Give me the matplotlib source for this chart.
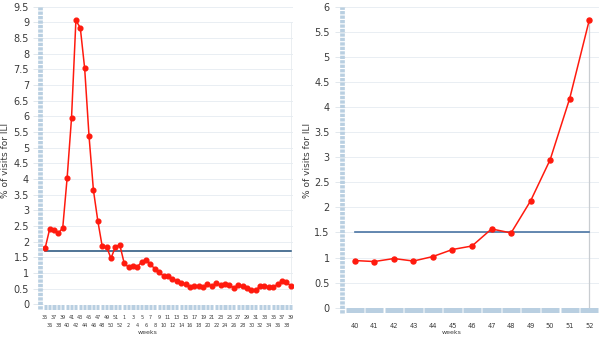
import matplotlib
matplotlib.use("Agg")
import matplotlib.pyplot as plt

# season 1: weeks 35..52 then 1..39
season_weeks = [str(w) for w in range(35, 53)] + [str(w) for w in range(1, 40)]
season_ili = [
    1.80, 2.39, 2.36, 2.27, 2.44, 4.03, 5.94, 9.06, 8.83, 7.53, 5.36, 3.64,
    2.66, 1.85, 1.83, 1.47, 1.83, 1.90,
    1.32, 1.18, 1.23, 1.20, 1.35, 1.42, 1.29, 1.12, 1.04, 0.89, 0.89, 0.82,
    0.74, 0.67, 0.64, 0.56, 0.59, 0.58, 0.56, 0.64, 0.58, 0.67, 0.61, 0.66,
    0.62, 0.52, 0.62, 0.57, 0.51, 0.46, 0.46, 0.57, 0.60, 0.54, 0.54, 0.65,
    0.73, 0.70, 0.59,
]
season_baseline = 1.70

# current season: weeks 40..52
current_weeks = [str(w) for w in range(40, 53)]
current_ili = [0.94, 0.92, 0.98, 0.93, 1.02, 1.16, 1.23, 1.57, 1.49,
               2.13, 2.95, 4.17, 5.73]
current_baseline = 1.5

RED = "#ff1a0e"
BAND = "#b9cfe1"
GRID = "#e9eef3"
TXT = "#3a3a3a"

W, H = 600, 339
fig = plt.figure(figsize=(W / 100, H / 100), dpi=100)
fig.patch.set_facecolor("white")


def px_axes(x0, x1, ytop, ybot):
    return fig.add_axes([x0 / W, 1 - ybot / H, (x1 - x0) / W, (ybot - ytop) / H])


def style(ax, ymax, n, band_w_px, tick_pad):
    ax.set_xlim(-0.5, n - 0.5)
    ax.set_ylim(0, ymax)
    yt = [i * 0.5 for i in range(int(ymax * 2) + 1)]
    ax.set_yticks(yt)
    ax.set_yticklabels([f"{v:g}" for v in yt])
    ax.grid(axis="y", color=GRID, lw=0.7)
    ax.set_axisbelow(True)
    for s in ax.spines.values():
        s.set_visible(False)
    ax.tick_params(axis="y", length=7, width=0.6, color="#dde4ea",
                   labelsize=7, labelcolor=TXT, pad=tick_pad)
    ax.tick_params(axis="x", which="both", length=0)
    # dashed band along the value axis
    bbox = ax.get_position()
    ax_w_px = bbox.width * W
    ax_h_px = bbox.height * H
    ax.plot([-2.6 / ax_w_px] * 2, [-5 / ax_h_px, 1], transform=ax.transAxes,
            color=BAND, lw=band_w_px * 0.72, dashes=(0.7, 0.25),
            clip_on=False, zorder=5, solid_capstyle="butt")
    # segmented band along the category axis
    gap = 0.6 / (ax_w_px / n)
    trans = ax.get_xaxis_transform()
    for i in range(n):
        ax.plot([i - 0.5 + gap, i + 0.5 - gap], [-2.4 / ax_h_px] * 2,
                transform=trans, color=BAND, lw=3.6, clip_on=False,
                zorder=5, solid_capstyle="butt")


# left panel
ax1 = px_axes(43, 293, 6.7, 304.3)
n1 = len(season_weeks)
x1 = list(range(n1))
style(ax1, 9.5, n1, 4.7, 3)
ax1.plot([0, n1 - 1], [season_baseline] * 2, color="#1f4e79", lw=1.1, zorder=3)
ax1.vlines(n1 - 1, 0, 9.0, color="#e6ebef", lw=0.6, zorder=1)
ax1.plot(x1, season_ili, color=RED, lw=1.1, marker="o", ms=3.4, zorder=4)
# alternate week labels on two rows
ax1.set_xticks(x1[::2])
ax1.set_xticklabels(season_weeks[::2], fontsize=3.5, color=TXT)
ax1.set_xticks(x1[1::2], minor=True)
ax1.set_xticklabels(season_weeks[1::2], minor=True, fontsize=3.5, color=TXT)
ax1.tick_params(axis="x", which="major", pad=8)
ax1.tick_params(axis="x", which="minor", pad=13.5)
fig.text(148 / W, 1 - 332 / H, "weeks", ha="center", va="center",
         fontsize=4.5, color=TXT)
fig.text(6 / W, 1 - 160 / H, "% of visits for ILI", rotation=90,
         ha="center", va="center", fontsize=6.5, color=TXT)

# right panel
ax2 = px_axes(345, 599, 6.7, 307.7)
n2 = len(current_weeks)
x2 = list(range(n2))
style(ax2, 6, n2, 4.7, 4)
ax2.plot([0, n2 - 1], [current_baseline] * 2, color="#4a74a3", lw=1.2, zorder=3)
ax2.vlines(n2 - 1, 0, current_ili[-1], color="#c9cdd1", lw=0.9, zorder=1)
ax2.plot(x2, current_ili, color=RED, lw=1.1, marker="o", ms=3.6, zorder=4)
ax2.set_xticks(x2)
ax2.set_xticklabels(current_weeks, fontsize=4.8, color=TXT)
ax2.tick_params(axis="x", pad=11)
fig.text(452 / W, 1 - 332 / H, "weeks", ha="center", va="center",
         fontsize=4.5, color=TXT)
fig.text(308 / W, 1 - 160 / H, "% of visits for ILI", rotation=90,
         ha="center", va="center", fontsize=6.5, color=TXT)

fig.savefig("out.png", dpi=100, facecolor="white")
